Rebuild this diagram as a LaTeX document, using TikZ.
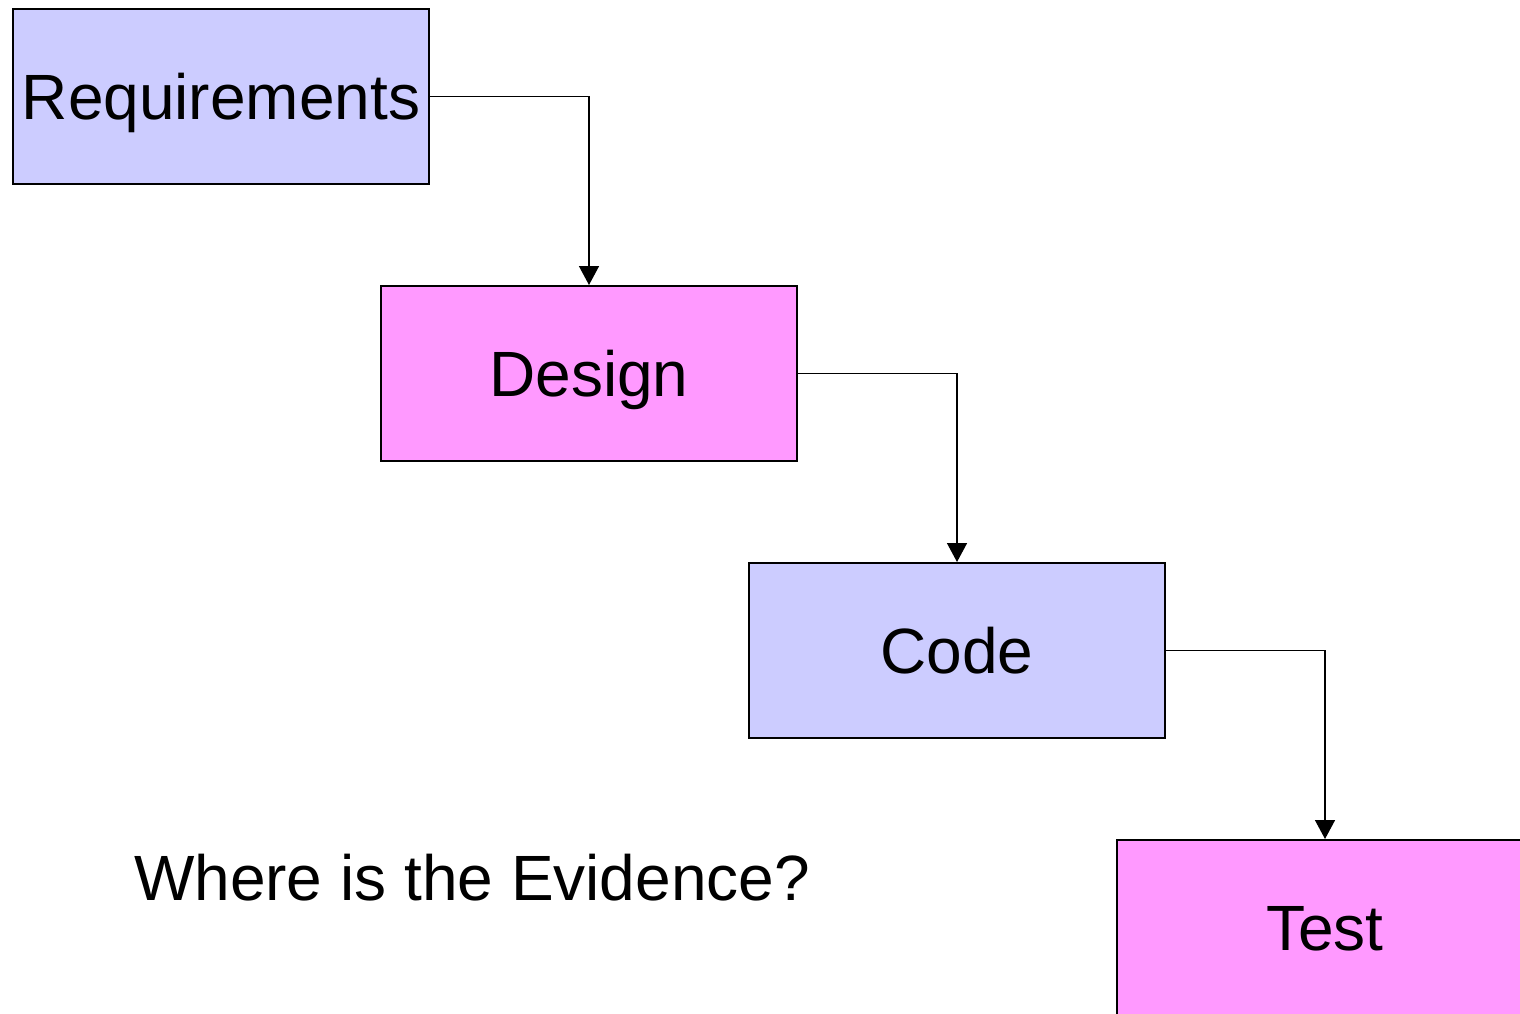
\documentclass[tikz,border=0pt]{standalone}
\usepackage{fontspec}
\setmainfont{Liberation Sans}
\usetikzlibrary{arrows.meta}
\definecolor{stageblue}{HTML}{CCCCFF}
\definecolor{stagepink}{HTML}{FF99FF}
\begin{document}
\begin{tikzpicture}[x=0.5pt,y=-0.5pt,
  stagebox/.style={draw=black, line width=1pt, rectangle, anchor=north west,
    minimum width=208pt, minimum height=87.5pt, inner sep=0pt,
    text height=23pt, text depth=0pt, font=\fontsize{32}{38}\selectfont},
  flow/.style={draw=black, line width=0.75pt, -{Triangle[length=9.5pt,width=10pt]}},
  caption/.style={anchor=base, inner sep=0pt, font=\fontsize{32}{38}\selectfont}
]
  % page frame
  \clip (0,0) rectangle (1520,1013);
  \useasboundingbox (0,0) rectangle (1520,1013);

  % process stages
  \node[stagebox, fill=stageblue] (req)  at (12,8)    {Requirements};
  \node[stagebox, fill=stagepink] (des)  at (380,285) {Design};
  \node[stagebox, fill=stageblue] (code) at (748,562) {Code};
  \node[stagebox, fill=stagepink] (test) at (1116,839) {Test};

  % flow between stages
  \draw[flow] (req.east)  -| (des.north);
  \draw[flow] (des.east)  -| (code.north);
  \draw[flow] (code.east) -| (test.north);

  % question
  \node[caption] (q) at (472,900) {Where is the Evidence?};
\end{tikzpicture}
\end{document}
